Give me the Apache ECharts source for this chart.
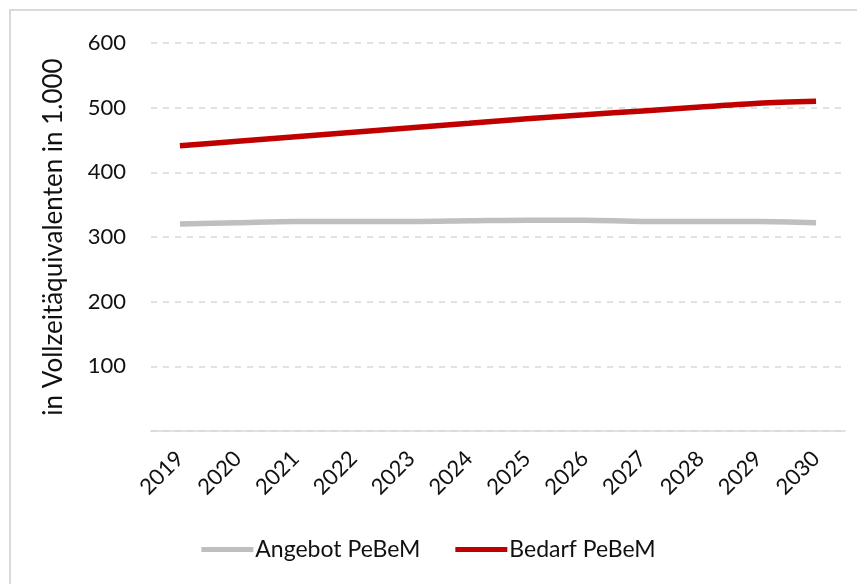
<!DOCTYPE html>
<html><head><meta charset="utf-8">
<script src="https://cdn.jsdelivr.net/npm/echarts@6/dist/echarts.min.js"></script>
<style>html,body{margin:0;padding:0;background:#fff}#c{width:857px;height:584px}</style>
</head><body><div id="c"></div>
<script>
const years = ['2019','2020','2021','2022','2023','2024','2025','2026','2027','2028','2029','2030'];
const angebot = [320, 322, 324, 324, 324, 325, 326, 326, 324, 324, 324, 322];
const bedarf = [441, 448, 455, 462, 469, 476, 483, 489, 495, 501, 507, 510];
const yTicks = [100, 200, 300, 400, 500, 600];

const font = 'Lato, "Open Sans", sans-serif';
const chart = echarts.init(document.getElementById('c'));
chart.setOption({
  animation: false,
  textStyle: {fontFamily: font},
  graphic: [{type: 'rect', shape: {x: 10, y: 10, width: 860, height: 590}, style: {fill: 'none', stroke: '#d9d9d9', lineWidth: 2}}],
  grid: {left: 151, right: 12, top: 43, bottom: 153},
  xAxis: {
    type: 'category', data: years, boundaryGap: true,
    axisLine: {lineStyle: {color: '#d9d9d9', width: 1.5}},
    axisTick: {show: false},
    axisLabel: {rotate: 45, color: '#111', fontSize: 22, fontFamily: font, margin: 24}
  },
  yAxis: {
    type: 'value', min: 0, max: 600, interval: 100,
    name: 'in Vollzeitäquivalenten in 1.000', nameLocation: 'middle', nameGap: 84,
    nameTextStyle: {fontSize: 26, color: '#111', fontFamily: font},
    axisLine: {show: false}, axisTick: {show: false},
    axisLabel: {color: '#111', fontSize: 22, fontFamily: font, margin: 25,
      formatter: v => yTicks.includes(v) ? String(v) : ''},
    splitLine: {lineStyle: {color: '#d9d9d9', type: [6, 6], width: 1.5}}
  },
  legend: {
    bottom: 18, left: 'center', itemWidth: 52, itemHeight: 5, itemGap: 35,
    icon: 'rect',
    textStyle: {fontSize: 23, color: '#111', fontFamily: font, padding: [0,0,0,-3]},
    data: ['Angebot PeBeM', 'Bedarf PeBeM']
  },
  series: [
    {name: 'Angebot PeBeM', type: 'line', data: angebot, smooth: 0.3, symbol: 'none',
      lineStyle: {color: '#bfbfbf', width: 5.5}, itemStyle: {color: '#bfbfbf'}},
    {name: 'Bedarf PeBeM', type: 'line', data: bedarf, smooth: 0.3, symbol: 'none',
      lineStyle: {color: '#c00000', width: 5.5}, itemStyle: {color: '#c00000'}}
  ]
});
</script></body></html>
